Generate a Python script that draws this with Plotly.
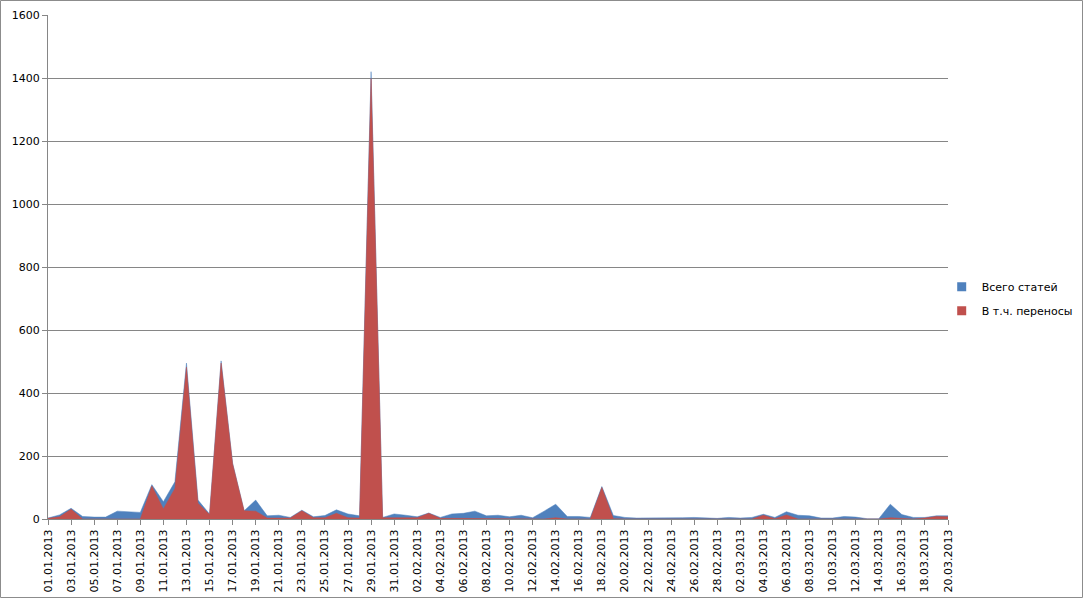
import datetime as dt
import plotly.graph_objects as go

start = dt.date(2013, 1, 1)
dates = [(start + dt.timedelta(days=i)).strftime("%d.%m.%Y") for i in range(79)]

total = [3, 13, 34, 8, 6, 6, 25, 24, 21, 109, 55, 118, 495, 60, 16, 502, 177, 26, 60, 10,
         12, 5, 28, 7, 11, 29, 16, 10, 1420, 5, 16, 12, 7, 19, 5, 16, 18, 25, 10, 12,
         7, 12, 4, 25, 47, 8, 8, 5, 103, 11, 5, 3, 3, 2, 2, 4, 5, 3, 2, 5,
         3, 5, 15, 5, 23, 12, 10, 3, 3, 8, 6, 1, 1, 47, 14, 5, 5, 10, 10]
transfers = [2, 7, 31, 0, 0, 0, 0, 0, 0, 105, 32, 97, 482, 50, 14, 495, 175, 26, 25, 3,
             3, 3, 26, 4, 4, 18, 4, 3, 1398, 4, 4, 4, 4, 18, 2, 2, 2, 2, 2, 2,
             2, 1, 0, 0, 4, 0, 0, 0, 100, 1, 0, 0, 0, 0, 0, 2, 2, 2, 0, 0,
             0, 0, 12, 1, 13, 0, 0, 0, 0, 0, 0, 0, 0, 4, 2, 0, 3, 8, 7]

series_names = ["Всего статей", "В т.ч. переносы"]
colors = ["#4F81BD", "#C0504D"]

fig = go.Figure()
for name, vals, col in zip(series_names, [total, transfers], colors):
    fig.add_trace(go.Scatter(
        x=dates, y=vals, name=name, mode="lines",
        line=dict(color=col, width=0.5), fill="tozeroy", fillcolor=col,
        hoverinfo="skip", showlegend=False,
    ))
# legend entries with square swatches
for i, (name, col) in enumerate(zip(series_names, colors)):
    fig.add_trace(go.Scatter(
        x=[None], y=[None], name=name, mode="markers",
        marker=dict(symbol="square", size=9, color=col),
        legendgroup=f"g{i}", showlegend=True, hoverinfo="skip",
    ))

tick_vals = dates[::2]

fig.update_layout(
    width=1083, height=598,
    paper_bgcolor="white", plot_bgcolor="white",
    margin=dict(l=48, r=135, t=15, b=79, autoexpand=False),
    font=dict(family="DejaVu Sans", size=11, color="#000000"),
    showlegend=True,
    legend=dict(x=0.993, y=0.437, xanchor="left", yanchor="middle",
                font=dict(size=11), bgcolor="rgba(0,0,0,0)", tracegroupgap=5,
                itemwidth=30),
    shapes=[dict(type="rect", xref="paper", yref="paper",
                 x0=-47.5 / 900, x1=(1082.5 - 48) / 900,
                 y0=-78.5 / 504, y1=(519 - 0.5) / 504,
                 line=dict(color="#8c8c8c", width=1), fillcolor="rgba(0,0,0,0)", layer="below")],
)
fig.update_xaxes(
    type="category", range=[0, 78], tickmode="array", tickvals=tick_vals, ticktext=tick_vals,
    tickangle=-90, showgrid=False, showline=True, linecolor="#868686", linewidth=1,
    ticks="outside", ticklen=5, tickcolor="#868686", tickfont=dict(size=11), automargin=False,
)
fig.update_yaxes(
    range=[0, 1600], dtick=200, showgrid=True, gridcolor="#868686", gridwidth=1,
    showline=True, linecolor="#868686", linewidth=1, ticks="outside", ticklen=5,
    tickcolor="#868686", zeroline=False, tickfont=dict(size=11), automargin=False,
)

fig.write_html(
    "out.html",
    config={"displayModeBar": False},
    post_script="document.body.style.margin='0';document.body.style.padding='0';document.body.style.overflow='hidden';",
)
